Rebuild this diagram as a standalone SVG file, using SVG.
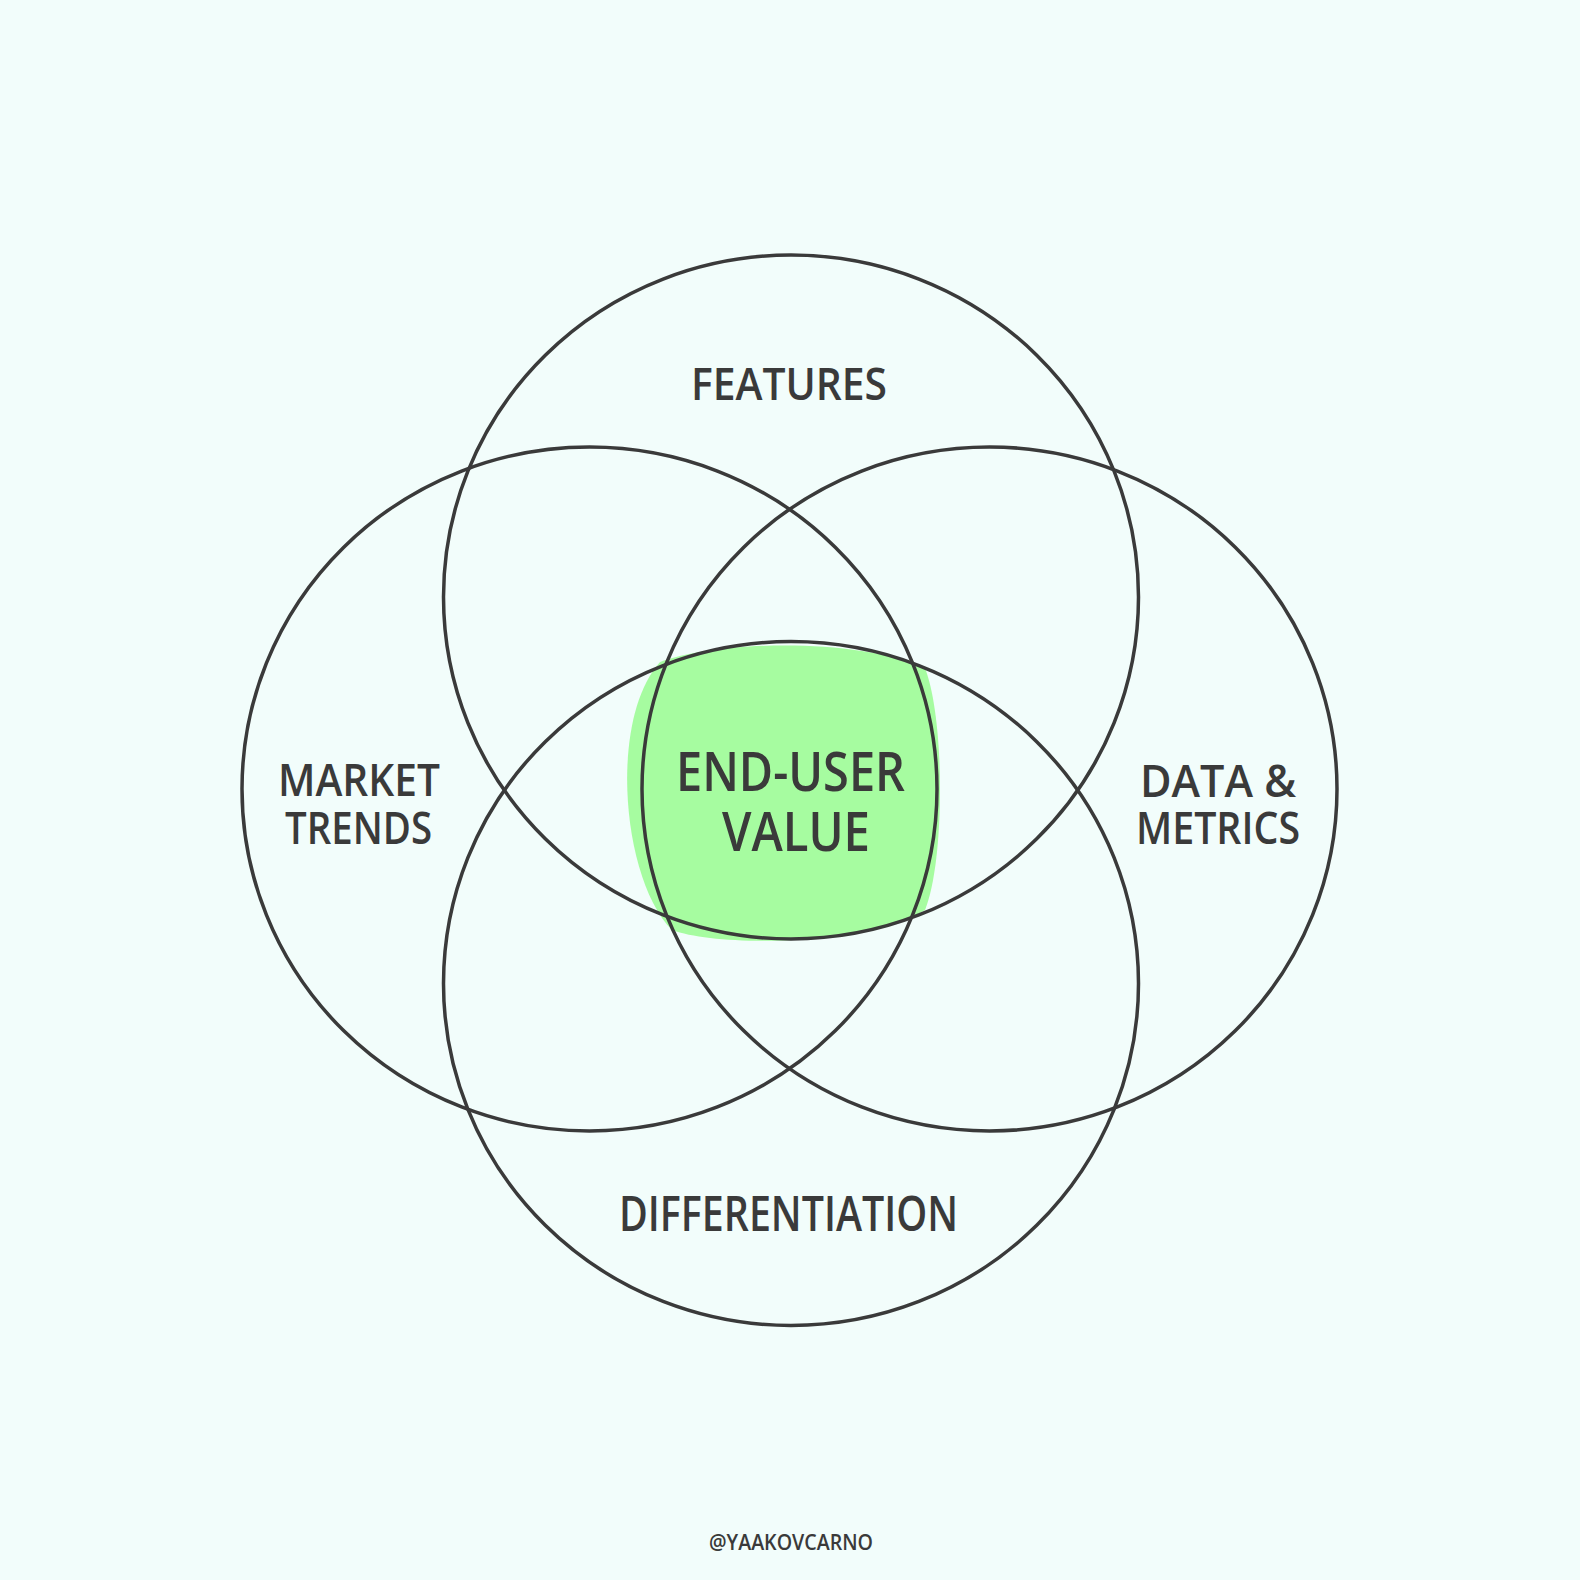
<svg xmlns="http://www.w3.org/2000/svg" width="1580" height="1580" viewBox="0 0 1580 1580">
<style>
.bg{fill:#f2fdfb}
.ring{fill:none;stroke:#3a3a3a;stroke-width:3.5}
.lbl{font-family:"Open Sans","Liberation Sans",Arial,sans-serif;font-weight:600;fill:#3a3a3a;text-anchor:middle}
</style>
<rect class="bg" x="0" y="0" width="1580" height="1580"/>
<g id="highlight">
<path d="M 660,662 C 720,640 860,638 925,668 C 945,720 945,860 925,910 C 870,945 720,948 672,930 C 622,880 608,720 660,662 Z" fill="#a6fca0"/>
</g>
<g id="connectors"></g>
<g id="features">
<ellipse class="ring" cx="791" cy="597" rx="347.5" ry="342"/>
<text class="lbl" x="789" y="400" font-size="46" textLength="196" lengthAdjust="spacingAndGlyphs">FEATURES</text>
</g>
<g id="market-trends">
<ellipse class="ring" cx="589.5" cy="789" rx="347.5" ry="342"/>
<text class="lbl" font-size="46"><tspan x="359" y="796" textLength="162" lengthAdjust="spacingAndGlyphs">MARKET</tspan><tspan x="358.5" y="844" textLength="147" lengthAdjust="spacingAndGlyphs">TRENDS</tspan></text>
</g>
<g id="data-metrics">
<ellipse class="ring" cx="989.5" cy="789" rx="347.5" ry="342"/>
<text class="lbl" font-size="46"><tspan x="1218" y="797" textLength="156" lengthAdjust="spacingAndGlyphs">DATA &amp;</tspan><tspan x="1218" y="844" textLength="164" lengthAdjust="spacingAndGlyphs">METRICS</tspan></text>
</g>
<g id="differentiation">
<ellipse class="ring" cx="791" cy="983.5" rx="347.5" ry="342"/>
<text class="lbl" x="788.5" y="1231" font-size="48" textLength="339" lengthAdjust="spacingAndGlyphs">DIFFERENTIATION</text>
</g>
<g id="end-user-value">
<text class="lbl" font-size="55"><tspan x="790.5" y="791" textLength="229" lengthAdjust="spacingAndGlyphs">END-USER</tspan><tspan x="796" y="851" textLength="148" lengthAdjust="spacingAndGlyphs">VALUE</tspan></text>
</g>
<g id="credit">
<text class="lbl" x="791" y="1550" font-size="22" textLength="164" lengthAdjust="spacingAndGlyphs">@YAAKOVCARNO</text>
</g>
</svg>
